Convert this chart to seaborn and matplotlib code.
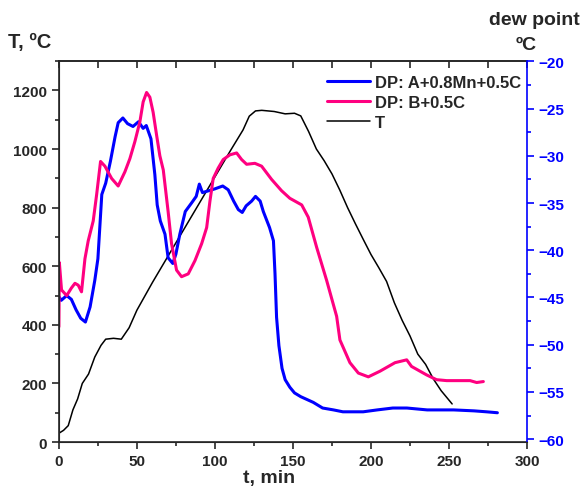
import numpy as np
import matplotlib
matplotlib.use("Agg")
import matplotlib.pyplot as plt
import seaborn as sns
from matplotlib.ticker import MultipleLocator

# furnace temperature
t_T = [0, 3, 6, 9, 12, 15, 19, 23, 27, 30, 35, 40, 45, 50, 54, 60, 70, 80, 90, 100,
       110, 118, 122, 126, 130, 138, 145, 151, 155, 160, 165, 170, 175, 180, 185, 190,
       195, 200, 205, 210, 215, 220, 225, 230, 235, 240, 245, 252]
T = [30, 40, 56, 110, 147, 200, 232, 290, 330, 351, 354, 351, 390, 450, 488, 545, 635,
     725, 815, 905, 995, 1065, 1112, 1130, 1132, 1128, 1120, 1122, 1113, 1060, 1000, 960,
     915, 860, 800, 745, 692, 640, 595, 548, 475, 415, 362, 300, 265, 215, 175, 130]

# dew point, A+0.8Mn+0.5C
t_a = [0, 1.5, 5, 8, 11, 14, 17, 20, 23, 25, 27.5, 30, 33, 36, 38, 41, 44, 47.5, 51, 54,
       56, 59, 61.5, 63, 65, 68, 70, 73, 75, 77.5, 81, 85, 88, 90, 92, 96, 100, 105,
       108.5, 112, 115, 117.5, 120, 123.5, 126, 129, 131, 135, 137.5, 138.5, 139.5, 141,
       143, 145, 148, 151, 155, 163, 169, 176, 182, 195, 204, 214, 223, 236, 253, 266,
       274, 281]
dp_a = [-44.9, -45.3, -44.8, -45.2, -46.3, -47.2, -47.6, -46.0, -43.2, -40.9, -34.1,
        -32.9, -30.6, -28.0, -26.5, -26.0, -26.6, -26.9, -26.4, -27.1, -26.8, -28.2,
        -32.0, -35.2, -36.9, -38.3, -40.8, -41.4, -40.4, -38.3, -35.9, -35.0, -34.3,
        -33.0, -33.9, -33.7, -33.5, -33.2, -33.6, -34.8, -35.7, -36.0, -35.3, -34.8,
        -34.3, -34.8, -35.9, -37.6, -39.0, -42.5, -47.1, -50.1, -52.5, -53.7, -54.5,
        -55.1, -55.5, -56.1, -56.7, -56.9, -57.1, -57.1, -56.9, -56.7, -56.7, -56.9,
        -56.9, -57.0, -57.1, -57.2]

# dew point, B+0.5C
t_b = [0, 0.3, 1.7, 5, 8, 10.3, 12.4, 14.5, 16.7, 18.8, 22, 24.2, 26.7, 29.5, 33.8, 38,
       42.3, 45.5, 48.7, 51.9, 54, 56.2, 58.3, 60.4, 62.6, 64.7, 66.9, 70, 72.2, 75.4,
       78.6, 82.9, 87.2, 91.5, 94.7, 96.8, 98.9, 102.1, 105.3, 109.6, 113.9, 117.1,
       120.3, 125.6, 129.9, 136.3, 142.7, 148, 155.6, 159.8, 165.2, 171.6, 178, 180.1,
       186.5, 191.9, 198.3, 205.8, 215.4, 222.9, 226, 235.7, 242, 248.5, 263.5, 267.7,
       272]
dp_b = [-48.1, -41.3, -44.2, -44.8, -44.0, -43.5, -43.7, -44.4, -40.9, -39.0, -36.9,
        -34.1, -30.6, -31.1, -32.4, -33.2, -31.7, -30.3, -28.5, -26.4, -24.3, -23.3,
        -23.8, -25.4, -27.8, -30.0, -31.5, -35.9, -39.3, -42.1, -42.8, -42.5, -41.1,
        -39.3, -37.6, -34.8, -32.4, -31.3, -30.4, -29.9, -29.7, -30.4, -30.9, -30.8,
        -31.1, -32.5, -33.7, -34.5, -35.2, -36.5, -39.7, -43.2, -47.0, -49.5, -51.9,
        -53.0, -53.4, -52.8, -51.9, -51.6, -52.3, -53.2, -53.7, -53.8, -53.8, -54.0,
        -53.9]

blue = "#0000ff"
pink = "#ff0080"

sns.set_style("ticks")
plt.rcParams["font.family"] = ["Liberation Sans", "DejaVu Sans"]
plt.rcParams["font.weight"] = "bold"

fig = plt.figure(figsize=(5.83, 4.89), dpi=100)
ax = fig.add_axes([0.101, 0.094, 0.803, 0.779])
ax2 = ax.twinx()

sns.lineplot(x=t_T, y=T, ax=ax, color="black", lw=1.1, sort=False, estimator=None, label="T")
sns.lineplot(x=t_a, y=dp_a, ax=ax2, color=blue, lw=2.2, sort=False, estimator=None,
             label="DP: A+0.8Mn+0.5C")
sns.lineplot(x=t_b, y=dp_b, ax=ax2, color=pink, lw=2.2, sort=False, estimator=None,
             label="DP: B+0.5C")

ax.set_xlim(0, 300)
ax.set_ylim(0, 1300)
ax2.set_ylim(-60.3, -19.98)

ax.xaxis.set_major_locator(MultipleLocator(50))
ax.xaxis.set_minor_locator(MultipleLocator(25))
ax.yaxis.set_major_locator(MultipleLocator(200))
ax.yaxis.set_minor_locator(MultipleLocator(100))
ax2.yaxis.set_major_locator(MultipleLocator(5))
ax2.yaxis.set_minor_locator(MultipleLocator(2.5))

ax.tick_params(axis="both", which="both", direction="out", labelsize=11, width=1.2)
ax.tick_params(axis="both", which="major", length=5)
ax.tick_params(axis="both", which="minor", length=3)
ax2.tick_params(axis="y", which="both", colors=blue, labelsize=11, width=1.2)
ax2.tick_params(axis="y", which="major", length=5)
ax2.tick_params(axis="y", which="minor", length=3)

# top axis: inward ticks every 25 min, no labels
top = ax.secondary_xaxis("top")
top.xaxis.set_major_locator(MultipleLocator(25))
top.tick_params(direction="in", length=5, width=1.2, labeltop=False)
top.spines["top"].set_linewidth(1.2)

for lab in ax.get_xticklabels() + ax.get_yticklabels() + ax2.get_yticklabels():
    lab.set_fontweight("bold")

for s in ["left", "bottom", "top"]:
    ax.spines[s].set_visible(True)
    ax.spines[s].set_linewidth(1.2)
ax2.spines["right"].set_visible(True)
ax2.spines["right"].set_color(blue)
ax2.spines["right"].set_linewidth(1.2)
ax2.spines["top"].set_visible(False)
ax.spines["right"].set_visible(False)

ax.set_xlabel("")
ax.set_ylabel("")
ax2.set_ylabel("")

fig.text(0.014, 0.913, "T, ºC", fontsize=14.5, fontweight="bold", ha="left", va="center")
fig.text(0.995, 0.958, "dew point", fontsize=14, fontweight="bold", ha="right", va="center")
fig.text(0.921, 0.906, "ºC", fontsize=14, fontweight="bold", ha="right", va="center")
fig.text(0.462, 0.022, "t, min", fontsize=14, fontweight="bold", ha="center", va="center")

ax.get_legend().remove()
h2, l2 = ax2.get_legend_handles_labels()
h1, l1 = ax.get_legend_handles_labels()
ax2.legend(h2 + h1, l2 + l1, loc="upper left", bbox_to_anchor=(0.535, 0.875),
           bbox_transform=fig.transFigure, frameon=False,
           handlelength=2.6, handletextpad=0.3, labelspacing=0.3,
           prop={"weight": "bold", "size": 12})

fig.savefig("out.png", dpi=100)
